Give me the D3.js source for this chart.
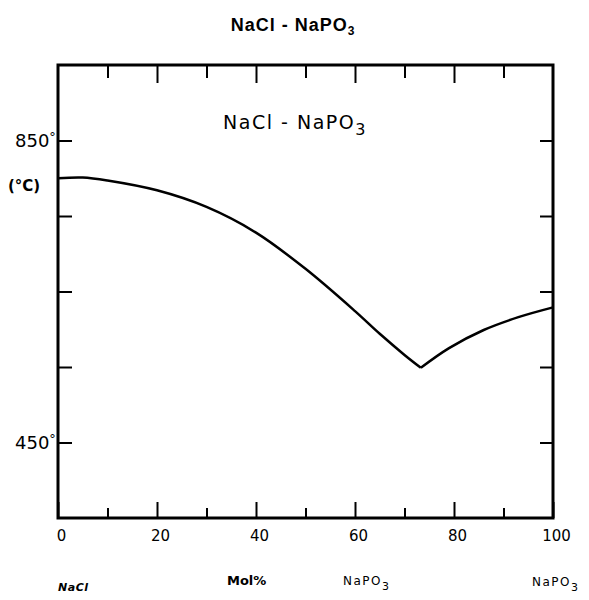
<!DOCTYPE html>
<html><head><meta charset="utf-8">
<script src="https://cdn.jsdelivr.net/npm/d3@7"></script>
<style>body{margin:0;background:#fff}svg{display:block}text{fill:#000}</style>
</head><body>
<svg id="c" width="589" height="600"></svg>
<script>
// NaCl-rich branch (liquidus of NaCl): mol% NaPO3 vs temperature (°C)
const leftX = [0, 5, 10, 20, 30, 40, 50, 60, 65, 70, 73.3];
const leftT = [800, 801, 797, 784, 762, 728, 680, 624, 594, 566, 549];
// NaPO3-rich branch
const rightX = [73.3, 79, 86, 93, 100];
const rightT = [549, 575, 599, 616, 629];
const xTicks = [0, 20, 40, 60, 80, 100];
const xMinor = [10, 30, 50, 70, 90];
const yTicks = [850, 750, 650, 550, 450];
const yLabels = ["850", "450"];

(function () {
const svg = d3.select("#c");
const x = d3.scaleLinear().domain([0, 100]).range([58, 553]);
const y = d3.scaleLinear().domain([350, 950]).range([518, 65]);
const font = "'DejaVu Sans', sans-serif";

// frame
svg.append("rect").attr("x", x(0)).attr("y", y(950)).attr("width", x(100) - x(0)).attr("height", y(350) - y(950))
  .attr("fill", "none").attr("stroke", "#000").attr("stroke-width", 3);

// bottom axis
const bottomG = svg.append("g").attr("transform", `translate(0,${y(350)})`);
bottomG.call(d3.axisBottom(x).tickValues(xTicks).tickSize(-16).tickPadding(0).tickFormat(d3.format("d")))
  .call(g => g.select(".domain").remove())
  .call(g => g.selectAll(".tick line").attr("stroke-width", 2))
  .call(g => g.selectAll(".tick text").attr("y", 12).attr("dx", 3).attr("font-family", font).attr("font-size", 15).attr("fill", "#000"));
bottomG.append("g").call(d3.axisBottom(x).tickValues(xMinor).tickSize(-10).tickFormat(""))
  .call(g => g.select(".domain").remove())
  .call(g => g.selectAll(".tick line").attr("stroke-width", 2));

// top axis
const topG = svg.append("g").attr("transform", `translate(0,${y(950)})`);
topG.call(d3.axisTop(x).tickValues([20, 40, 60, 80]).tickSize(-18).tickFormat(""))
  .call(g => g.select(".domain").remove())
  .call(g => g.selectAll(".tick line").attr("stroke-width", 2));
topG.append("g").call(d3.axisTop(x).tickValues(xMinor).tickSize(-13).tickFormat(""))
  .call(g => g.select(".domain").remove())
  .call(g => g.selectAll(".tick line").attr("stroke-width", 2));

// left & right axes
svg.append("g").attr("transform", `translate(${x(0)},0)`)
  .call(d3.axisLeft(y).tickValues(yTicks).tickSize(-14).tickFormat(""))
  .call(g => g.select(".domain").remove())
  .call(g => g.selectAll(".tick line").attr("stroke-width", 2));
svg.append("g").attr("transform", `translate(${x(100)},0)`)
  .call(d3.axisRight(y).tickValues(yTicks).tickSize(-13).tickFormat(""))
  .call(g => g.select(".domain").remove())
  .call(g => g.selectAll(".tick line").attr("stroke-width", 2));

// y labels with degree sign
yLabels.forEach(l => {
  const v = +l;
  const tx = svg.append("text").attr("x", 15).attr("y", y(v) + 6)
    .attr("font-family", font).attr("font-size", 18);
  tx.append("tspan").text(l);
  tx.append("tspan").attr("font-size", 13).attr("dy", -6).text("°");
});
svg.append("text").attr("x", 8).attr("y", 191).attr("font-family", font).attr("font-weight", "bold")
  .attr("font-size", 15).text("(°C)");

// curve
const line = d3.line().x(d => x(d[0])).y(d => y(d[1])).curve(d3.curveCatmullRom);
svg.append("path").datum(leftX.map((v, i) => [v, leftT[i]])).attr("d", line)
  .attr("fill", "none").attr("stroke", "#000").attr("stroke-width", 2.5);
svg.append("path").datum(rightX.map((v, i) => [v, rightT[i]])).attr("d", line)
  .attr("fill", "none").attr("stroke", "#000").attr("stroke-width", 2.5);

// title
const t = svg.append("text").attr("x", 293).attr("y", 31).attr("text-anchor", "middle")
  .attr("font-family", "'Liberation Sans', Arial, sans-serif").attr("font-weight", "bold").attr("font-size", 18).attr("letter-spacing", 1);
t.append("tspan").text("NaCl  -  NaPO");
t.append("tspan").attr("font-size", 12).attr("dy", 4).text("3");

// inner label
const il = svg.append("text").attr("x", 295).attr("y", 129).attr("text-anchor", "middle")
  .attr("font-family", font).attr("font-size", 19).attr("letter-spacing", 1.5);
il.append("tspan").text("NaCl - NaPO");
il.append("tspan").attr("font-size", 16).attr("dy", 6).text("3");

// bottom labels
svg.append("text").attr("x", 58).attr("y", 591).attr("font-family", font).attr("font-weight", "bold")
  .attr("font-style", "italic").attr("font-size", 11).attr("letter-spacing", 0.5).text("NaCl");
svg.append("text").attr("x", 227).attr("y", 585).attr("font-family", font).attr("font-weight", "bold")
  .attr("font-size", 13).text("Mol%");
[[343, 585], [532, 586]].forEach(p => {
  const s = svg.append("text").attr("x", p[0]).attr("y", p[1]).attr("font-family", font)
    .attr("font-size", 12).attr("letter-spacing", 1.5);
  s.append("tspan").text("NaPO");
  s.append("tspan").attr("font-size", 11).attr("dy", 5).text("3");
});
})();
</script>
</body></html>
